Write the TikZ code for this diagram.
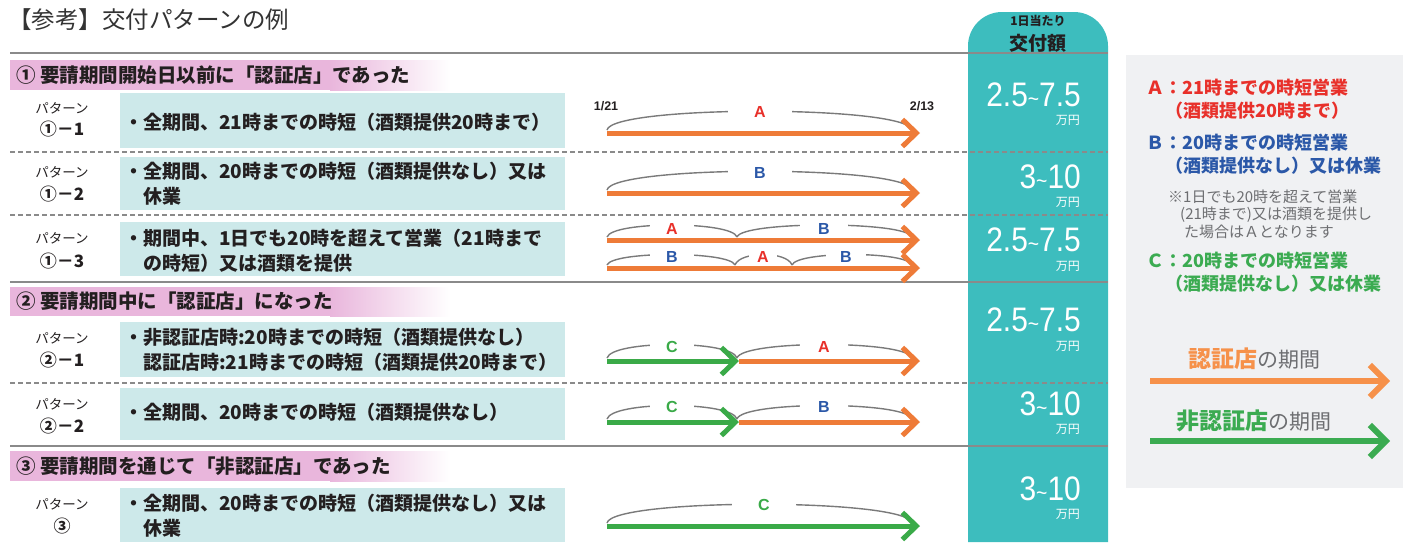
\documentclass[tikz,border=0pt]{standalone}
\usepackage{fontspec}
\setmainfont{Noto Sans CJK JP}
\newfontfamily\lat{Liberation Sans}
\usetikzlibrary{arrows.meta}
\definecolor{tealc}{HTML}{3DBDBE}
\definecolor{boxc}{HTML}{CDE9EA}
\definecolor{pinkc}{HTML}{E9B6DC}
\definecolor{orangec}{HTML}{EE7B38}
\definecolor{greenc}{HTML}{3AAA48}
\definecolor{redc}{HTML}{E8302A}
\definecolor{bluec}{HTML}{2B58A8}
\definecolor{legc}{HTML}{F0F1F3}
\definecolor{lorange}{HTML}{F6914A}
\definecolor{lgreen}{HTML}{3BAB51}
\definecolor{txt}{HTML}{231F20}
\definecolor{linec}{HTML}{8A8A8A}
\definecolor{arcc}{HTML}{7A7A7A}
\definecolor{notec}{HTML}{6D6E71}
\newcommand\fs[1]{\fontsize{#1}{#1}\selectfont}
\newcommand\tarc[4]{\draw[arcline] (#1,#3) .. controls (#1+5,#3-#4) and (#2-5,#3-#4) .. (#2,#3);}
\begin{document}
\begin{tikzpicture}[x=1pt,y=-1pt,
  desc/.style={anchor=west,align=left,font=\fontsize{19}{25}\selectfont\bfseries,text=txt,inner sep=0pt},
  plab/.style={font=\fs{13.5},text=txt,inner sep=0pt},
  pnum/.style={font=\fs{17}\bfseries,text=txt,inner sep=0pt},
  sec/.style={anchor=west,font=\fs{19.5}\bfseries,text=txt,inner sep=0pt},
  big/.style={anchor=east,text=white,font=\lat\fs{34},xscale=0.88,inner sep=0pt},
  man/.style={anchor=east,text=white,font=\fs{12},inner sep=0pt},
  oarrow/.style={line width=5pt,draw=orangec,-{Straight Barb[length=14pt,width=27pt]}},
  garrow/.style={line width=5pt,draw=greenc,-{Straight Barb[length=14pt,width=27pt]}},
  arcline/.style={draw=arcc,line width=1.4pt},
  lab/.style={font=\lat\bfseries\fs{16},fill=white,inner ysep=1pt},
  solidline/.style={draw=linec,line width=2pt},
  dashline/.style={draw=linec,line width=1.3pt,dash pattern=on 5pt off 3pt},
  legtxt/.style={anchor=west,font=\fs{18}\bfseries,inner sep=0pt},
  notetxt/.style={anchor=west,font=\fs{15},text=notec,inner sep=0pt}]
\useasboundingbox (0,0) rectangle (1403,542);
% title
\node[anchor=west,font=\fs{23.5},text=black!80,inner sep=0pt] (title) at (8,20) {【参考】交付パターンの例};
% teal column
\fill[tealc] (968,542) -- (968,70) [rounded corners=34pt] -- (968,12) -- (1108,12) [sharp corners] -- (1108,70) -- (1108,542) -- cycle;
\node[font=\fs{12}\bfseries,text=txt,inner sep=0pt] (hd1) at (1038,21) {1日当たり};
\node[font=\fs{19}\bfseries,text=txt,inner sep=0pt] (hd2) at (1038,43) {交付額};
% legend box
\fill[legc] (1126,55) rectangle (1403,488);
% pink bands
\foreach \ya/\yb in {60/90,287/316,451/481}{
  \fill[pinkc] (10,\ya) rectangle (330,\yb);
  \shade[left color=pinkc,right color=white] (330,\ya) rectangle (450,\yb);
}
% row boxes
\fill[boxc] (120,93) rectangle (565,148);
\fill[boxc] (120,157) rectangle (565,210);
\fill[boxc] (120,222) rectangle (565,276);
\fill[boxc] (120,322) rectangle (565,377);
\fill[boxc] (120,388) rectangle (565,440);
\fill[boxc] (120,488) rectangle (565,542);
% lines
\draw[solidline] (10,53) -- (1108,53);
\draw[solidline] (10,282) -- (1108,282);
\draw[solidline] (10,446) -- (1108,446);
\draw[dashline] (10,152) -- (1108,152);
\draw[dashline] (10,215) -- (1108,215);
\draw[dashline] (10,383) -- (1108,383);
% section headers
\node[sec] (s1) at (16,75) {① 要請期間開始日以前に「認証店」であった};
\node[sec] (s2) at (16,301) {② 要請期間中に「認証店」になった};
\node[sec] (s3) at (16,466) {③ 要請期間を通じて「非認証店」であった};
% pattern labels
\node[plab] (p11a) at (62,108) {パターン};
\node[pnum] (p11b) at (62,129) {①－1};
\node[plab] (p12a) at (62,172) {パターン};
\node[pnum] (p12b) at (62,194) {①－2};
\node[plab] (p13a) at (62,238) {パターン};
\node[pnum] (p13b) at (62,261) {①－3};
\node[plab] (p21a) at (62,338) {パターン};
\node[pnum] (p21b) at (62,360) {②－1};
\node[plab] (p22a) at (62,404) {パターン};
\node[pnum] (p22b) at (62,426) {②－2};
\node[plab] (p3a) at (62,504) {パターン};
\node[pnum] (p3b) at (62,526) {③};
% descriptions
\node[desc] (d11) at (124,122) {・全期間、21時までの時短（酒類提供20時まで）};
\node[desc] (d12) at (124,184) {・全期間、20時までの時短（酒類提供なし）又は\\　休業};
\node[desc] (d13) at (124,251) {・期間中、1日でも20時を超えて営業（21時まで\\　の時短）又は酒類を提供};
\node[desc] (d21) at (124,350) {・非認証店時:20時までの時短（酒類提供なし）\\　認証店時:21時までの時短（酒類提供20時まで）};
\node[desc] (d22) at (124,412) {・全期間、20時までの時短（酒類提供なし）};
\node[desc] (d3) at (124,516) {・全期間、20時までの時短（酒類提供なし）又は\\　休業};
% amounts
\node[big] (v11) at (1081,95) {2.5{\fs{22}\textasciitilde}7.5};
\node[man] (m11) at (1080,120) {万円};
\node[big] (v12) at (1081,177) {3{\fs{22}\textasciitilde}10};
\node[man] (m12) at (1080,202) {万円};
\node[big] (v13) at (1081,240) {2.5{\fs{22}\textasciitilde}7.5};
\node[man] (m13) at (1080,266) {万円};
\node[big] (v21) at (1081,320) {2.5{\fs{22}\textasciitilde}7.5};
\node[man] (m21) at (1080,346) {万円};
\node[big] (v22) at (1081,404) {3{\fs{22}\textasciitilde}10};
\node[man] (m22) at (1080,429) {万円};
\node[big] (v3) at (1081,489) {3{\fs{22}\textasciitilde}10};
\node[man] (m3) at (1080,514) {万円};
% row 1-1
\tarc{607}{912}{130}{25}
\node[font=\lat\bfseries\fs{12.5},text=txt,inner sep=0pt] (d121) at (606,106) {1/21};
\node[font=\lat\bfseries\fs{12.5},text=txt,inner sep=0pt] (d213) at (922,106) {2/13};
\node[lab,text=redc,inner xsep=26pt] (la11) at (760,112) {A};
\coordinate (a11s) at (607,133); \coordinate (a11e) at (920,133);
\draw[oarrow] (a11s) -- (a11e);
% row 1-2
\tarc{607}{912}{190}{25}
\node[lab,text=bluec,inner xsep=26pt] (la12) at (760,173) {B};
\coordinate (a12s) at (607,193); \coordinate (a12e) at (920,193);
\draw[oarrow] (a12s) -- (a12e);
% row 1-3 upper
\tarc{607}{737}{237}{16}
\tarc{737}{912}{237}{16}
\node[lab,text=redc,inner xsep=16pt] (la13a) at (672,229) {A};
\node[lab,text=bluec,inner xsep=18pt] (la13b) at (824,229) {B};
\coordinate (a13s) at (607,240); \coordinate (a13e) at (920,240);
\draw[oarrow] (a13s) -- (a13e);
% row 1-3 lower
\tarc{607}{735}{265}{14}
\tarc{735}{792}{265}{14}
\tarc{792}{912}{265}{14}
\node[lab,text=bluec,inner xsep=16pt] (la13c) at (672,257) {B};
\node[lab,text=redc,inner xsep=8pt] (la13d) at (763,257) {A};
\node[lab,text=bluec,inner xsep=14pt] (la13e) at (846,257) {B};
\coordinate (b13s) at (607,268); \coordinate (b13e) at (920,268);
\draw[oarrow] (b13s) -- (b13e);
% row 2-1
\tarc{607}{737}{358}{18}
\tarc{737}{912}{358}{18}
\node[lab,text=greenc,inner xsep=16pt] (la21a) at (672,347) {C};
\node[lab,text=redc,inner xsep=18pt] (la21b) at (824,347) {A};
\coordinate (a21s) at (607,361); \coordinate (a21m) at (739,361); \coordinate (a21e) at (920,361);
\draw[oarrow] (a21m) -- (a21e);
\draw[garrow] (a21s) -- (a21m);
% row 2-2
\tarc{607}{737}{419}{18}
\tarc{737}{912}{419}{18}
\node[lab,text=greenc,inner xsep=16pt] (la22a) at (672,407) {C};
\node[lab,text=bluec,inner xsep=18pt] (la22b) at (824,407) {B};
\coordinate (a22s) at (607,422); \coordinate (a22m) at (739,422); \coordinate (a22e) at (920,422);
\draw[oarrow] (a22m) -- (a22e);
\draw[garrow] (a22s) -- (a22m);
% row 3
\tarc{607}{912}{523}{25}
\node[lab,text=greenc,inner xsep=26pt] (la3) at (764,505) {C};
\coordinate (a3s) at (607,526); \coordinate (a3e) at (920,526);
\draw[garrow] (a3s) -- (a3e);
% legend
\node[legtxt,text=redc] (lA1) at (1146,88) {Ａ：21時までの時短営業};
\node[legtxt,text=redc] (lA2) at (1165,111) {（酒類提供20時まで）};
\node[legtxt,text=bluec] (lB1) at (1146,143) {Ｂ：20時までの時短営業};
\node[legtxt,text=bluec] (lB2) at (1165,166) {（酒類提供なし）又は休業};
\node[notetxt] (n1) at (1168,197) {※1日でも20時を超えて営業};
\node[notetxt] (n2) at (1180,215) {(21時まで)又は酒類を提供し};
\node[notetxt] (n3) at (1184,232) {た場合はＡとなります};
\node[legtxt,text=lgreen] (lC1) at (1146,261) {Ｃ：20時までの時短営業};
\node[legtxt,text=lgreen] (lC2) at (1165,284) {（酒類提供なし）又は休業};
\node[anchor=west,inner sep=0pt] (lo) at (1188,359) {{\color{lorange}\fs{23}\bfseries 認証店}{\color{notec}\fs{21}の期間}};
\coordinate (los) at (1150,381); \coordinate (loe) at (1390,381);
\draw[line width=6pt,draw=lorange,-{Straight Barb[length=16pt,width=32pt]}] (los) -- (loe);
\node[anchor=west,inner sep=0pt] (lg) at (1176,421) {{\color{lgreen}\fs{23}\bfseries 非認証店}{\color{notec}\fs{21}の期間}};
\coordinate (lgs) at (1150,441); \coordinate (lge) at (1390,441);
\draw[line width=6pt,draw=lgreen,-{Straight Barb[length=16pt,width=32pt]}] (lgs) -- (lge);
\end{tikzpicture}
\end{document}
